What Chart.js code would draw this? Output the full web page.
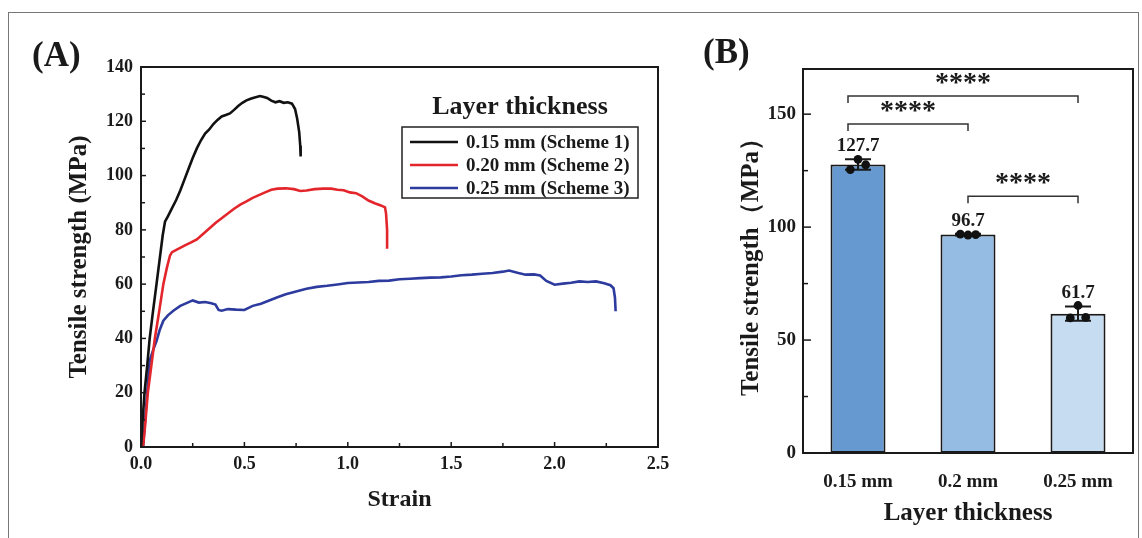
<!DOCTYPE html>
<html>
<head>
<meta charset="utf-8">
<script src="https://cdn.jsdelivr.net/npm/chart.js@4.4.0/dist/chart.umd.min.js"></script>
<style>
  body { margin: 0; background: #fff; width: 1142px; height: 538px; overflow: hidden; position: relative; }
  #frame { position: absolute; left: 8px; top: 12px; width: 1131px; height: 560px; border: 1px solid #777; box-sizing: border-box; }
  .panel { position: absolute; font-family: 'Liberation Serif', serif; font-weight: bold; font-size: 35px; color: #1a1a1a; line-height: 1; }
  .wrap { position: absolute; top: 0; }
</style>
</head>
<body>
<div id="frame"></div>
<div class="wrap" style="left:0;width:700px;height:538px"><canvas id="chartA" width="700" height="538"></canvas></div>
<div class="wrap" style="left:690px;width:452px;height:538px"><canvas id="chartB" width="452" height="538"></canvas></div>
<div class="panel" style="left:32px;top:37px">(A)</div>
<div class="panel" style="left:703px;top:34px">(B)</div>
<script>
// ---- panel A: stress-strain curves ----
const strain015 = [0, 0.008, 0.017, 0.03, 0.042, 0.058, 0.075, 0.09, 0.105, 0.116, 0.13, 0.15, 0.17, 0.19, 0.21, 0.23, 0.25, 0.27, 0.29, 0.31, 0.33, 0.35, 0.37, 0.39, 0.41, 0.43, 0.45, 0.47, 0.49, 0.51, 0.53, 0.55, 0.575, 0.59, 0.61, 0.63, 0.65, 0.67, 0.69, 0.71, 0.73, 0.745, 0.755, 0.765, 0.77, 0.772];
const stress015 = [0, 10, 20, 30, 40, 50, 60, 69, 78, 83, 85, 88, 91, 94.5, 98.5, 102.5, 106.5, 110, 113, 115.5, 117, 119, 120.5, 121.8, 122.3, 122.9, 124.2, 125.6, 126.8, 127.7, 128.3, 128.8, 129.3, 129, 128.6, 127.6, 127, 127.4, 126.8, 127, 126.5, 124.5, 121, 116, 111, 107];

const strain020 = [0.01, 0.02, 0.033, 0.05, 0.067, 0.088, 0.108, 0.125, 0.14, 0.15, 0.18, 0.21, 0.24, 0.27, 0.3, 0.33, 0.36, 0.39, 0.42, 0.45, 0.48, 0.51, 0.54, 0.57, 0.6, 0.63, 0.66, 0.7, 0.74, 0.77, 0.8, 0.84, 0.88, 0.92, 0.95, 0.98, 1.01, 1.04, 1.07, 1.1, 1.13, 1.16, 1.18, 1.185, 1.19, 1.19];
const stress020 = [0, 8, 20, 30, 40, 50, 60, 66, 70.5, 71.8, 73, 74.2, 75.3, 76.5, 78.5, 80.5, 82.5, 84.3, 86, 87.8, 89.3, 90.5, 91.8, 92.8, 93.8, 94.8, 95.2, 95.3, 95, 94.3, 94.5, 95, 95.2, 95.2, 94.8, 94.6, 93.8, 93.5, 92.3, 90.8, 89.8, 89, 88.3, 86, 80, 73];

const strain025 = [0.01, 0.02, 0.03, 0.042, 0.06, 0.075, 0.09, 0.108, 0.13, 0.158, 0.19, 0.22, 0.25, 0.28, 0.31, 0.34, 0.36, 0.375, 0.39, 0.42, 0.46, 0.5, 0.54, 0.58, 0.62, 0.66, 0.7, 0.75, 0.8, 0.85, 0.9, 0.95, 1.0, 1.05, 1.1, 1.15, 1.2, 1.25, 1.3, 1.35, 1.4, 1.45, 1.5, 1.55, 1.6, 1.65, 1.7, 1.75, 1.78, 1.82, 1.86, 1.9, 1.93, 1.96, 2.0, 2.04, 2.08, 2.12, 2.16, 2.2, 2.24, 2.27, 2.285, 2.292, 2.295];
const stress025 = [0, 10, 20, 31.8, 36, 39, 43, 46.5, 48.5, 50.3, 52, 53, 54, 53.2, 53.4, 53, 52.5, 50.5, 50.2, 50.8, 50.6, 50.5, 52, 52.8, 54, 55.2, 56.3, 57.3, 58.3, 59, 59.4, 59.9, 60.4, 60.6, 60.8, 61.2, 61.3, 61.8, 62, 62.2, 62.4, 62.5, 62.8, 63.3, 63.5, 63.8, 64.1, 64.6, 65, 64.2, 63.5, 63.6, 63.2, 61.2, 59.8, 60.2, 60.5, 61, 60.8, 61, 60.3, 59.6, 58.5, 55, 50];

const seriesLabels = ['0.15 mm (Scheme 1)', '0.20 mm (Scheme 2)', '0.25 mm (Scheme 3)'];
const seriesColors = ['#111111', '#e3262b', '#2d3b9e'];

// ---- panel B: mean tensile strength ----
const categoriesB = ['0.15 mm', '0.2 mm', '0.25 mm'];
const meansB = [127.7, 96.7, 61.7];
const errorsB = [2.3, 0.4, 3.2];
const replicatesB = [[130, 125.5, 127.6], [96.5, 96.9, 96.7], [65.3, 59.8, 60]];
const barColors = ['#6699d0', '#95bce3', '#c6dcf1'];
const comparisons = [
  { from: 0, to: 1, level: 145.6, text: '****' },
  { from: 0, to: 2, level: 158, text: '****' },
  { from: 1, to: 2, level: 113.7, text: '****' }
];

const SERIF = "'Liberation Serif', 'Times New Roman', serif";
const INK = '#1a1a1a';

function font(size) { return { family: SERIF, size: size, weight: 'bold' }; }

// box around the plot area plus inward tick marks
function framePlugin(scaleDefs) {
  return {
    id: 'frameTicks',
    afterDraw(chart) {
      const { ctx, chartArea: a } = chart;
      ctx.save();
      ctx.strokeStyle = INK;
      ctx.lineWidth = 2;
      ctx.strokeRect(a.left, a.top, a.right - a.left, a.bottom - a.top);
      ctx.lineWidth = 1.5;
      scaleDefs.forEach(d => {
        const s = chart.scales[d.id];
        const vals = s.ticks.map(t => t.value);
        const draw = (v, len) => {
          const p = s.getPixelForValue(v);
          ctx.beginPath();
          if (s.isHorizontal()) { ctx.moveTo(p, a.bottom); ctx.lineTo(p, a.bottom - len); }
          else { ctx.moveTo(a.left, p); ctx.lineTo(a.left + len, p); }
          ctx.stroke();
        };
        vals.forEach(v => draw(v, d.major));
        for (let i = 0; i < vals.length - 1; i++) draw((vals[i] + vals[i + 1]) / 2, d.minor);
      });
      ctx.restore();
    }
  };
}

const legendA = {
  id: 'legendA',
  afterDraw(chart) {
    const ctx = chart.ctx;
    ctx.save();
    ctx.fillStyle = INK;
    ctx.font = 'bold 26px ' + SERIF;
    ctx.textAlign = 'center';
    ctx.textBaseline = 'middle';
    ctx.fillText('Layer thickness', 520, 107);
    ctx.strokeStyle = '#222';
    ctx.lineWidth = 1.5;
    ctx.strokeRect(402, 127, 236, 71);
    ctx.font = 'bold 19px ' + SERIF;
    ctx.textAlign = 'left';
    chart.data.datasets.forEach((ds, i) => {
      const y = 142 + i * 23;
      ctx.strokeStyle = ds.borderColor;
      ctx.lineWidth = 2.6;
      ctx.beginPath(); ctx.moveTo(410, y); ctx.lineTo(458, y); ctx.stroke();
      ctx.fillText(ds.label, 466, y + 1);
    });
    ctx.restore();
  }
};

const pairs = (xs, ys) => xs.map((x, i) => ({ x: x, y: ys[i] }));

new Chart(document.getElementById('chartA'), {
  type: 'scatter',
  data: {
    datasets: [
      { label: seriesLabels[0], data: pairs(strain015, stress015), borderColor: seriesColors[0] },
      { label: seriesLabels[1], data: pairs(strain020, stress020), borderColor: seriesColors[1] },
      { label: seriesLabels[2], data: pairs(strain025, stress025), borderColor: seriesColors[2] }
    ]
  },
  options: {
    responsive: false,
    animation: false,
    showLine: true,
    layout: { padding: { top: 67, right: 42, left: 0, bottom: 0 } },
    elements: { point: { radius: 0 }, line: { borderWidth: 2.6, tension: 0 } },
    plugins: { legend: { display: false }, tooltip: { enabled: false } },
    scales: {
      x: {
        type: 'linear', min: 0, max: 2.5,
        grid: { display: false, drawTicks: false }, border: { display: false },
        ticks: { stepSize: 0.5, padding: 7, color: INK, font: font(18), callback: v => v.toFixed(1) },
        title: { display: true, text: 'Strain', color: INK, font: font(24), padding: { top: 0, bottom: 24 } },
        afterFit: s => { s.height = 91; }
      },
      y: {
        min: 0, max: 140,
        grid: { display: false, drawTicks: false }, border: { display: false },
        ticks: { stepSize: 20, padding: 8, color: INK, font: font(18) },
        title: { display: true, text: 'Tensile strength (MPa)', color: INK, font: font(25), padding: { top: 65, bottom: 0 } },
        afterFit: s => { s.width = 141; }
      }
    }
  },
  plugins: [framePlugin([{ id: 'x', major: 5, minor: 4 }, { id: 'y', major: 5, minor: 4 }]), legendA]
});

// error bars right after the bars, before the dots
const errorBarsB = {
  id: 'errorBarsB',
  afterDatasetDraw(chart, args) {
    if (args.index !== 0) return;
    const { ctx } = chart;
    const x = chart.scales.x, y = chart.scales.y;
    ctx.save();
    ctx.strokeStyle = INK;
    ctx.lineWidth = 2;
    meansB.forEach((m, i) => {
      const px = x.getPixelForValue(i);
      const top = y.getPixelForValue(m + errorsB[i]);
      const bot = y.getPixelForValue(m - errorsB[i]);
      ctx.beginPath();
      ctx.moveTo(px, top); ctx.lineTo(px, bot);
      ctx.moveTo(px - 13, top); ctx.lineTo(px + 13, top);
      ctx.moveTo(px - 13, bot); ctx.lineTo(px + 13, bot);
      ctx.stroke();
    });
    ctx.restore();
  }
};

const annotateB = {
  id: 'annotateB',
  afterDraw(chart) {
    const { ctx } = chart;
    const x = chart.scales.x, y = chart.scales.y;
    ctx.save();
    ctx.fillStyle = INK;
    ctx.textAlign = 'center';
    ctx.textBaseline = 'alphabetic';
    ctx.font = 'bold 19px ' + SERIF;
    meansB.forEach((m, i) => {
      ctx.fillText(m.toFixed(1), x.getPixelForValue(i), y.getPixelForValue(m + errorsB[i]) - 8);
    });
    ctx.strokeStyle = '#333';
    ctx.lineWidth = 1.5;
    ctx.font = 'bold 28px ' + SERIF;
    comparisons.forEach(c => {
      const x1 = x.getPixelForValue(c.from) - (c.from === 0 ? 10 : 0);
      const x2 = x.getPixelForValue(c.to);
      const py = y.getPixelForValue(c.level);
      ctx.beginPath();
      ctx.moveTo(x1, py + 7); ctx.lineTo(x1, py); ctx.lineTo(x2, py); ctx.lineTo(x2, py + 7);
      ctx.stroke();
      ctx.fillText(c.text, (x1 + x2) / 2, py - 5);
    });
    ctx.restore();
  }
};

const dotOffsets = [0, -0.07, 0.07];
const dotsB = [];
replicatesB.forEach((reps, i) => reps.forEach((v, k) => dotsB.push({ x: i + dotOffsets[k], y: v })));

new Chart(document.getElementById('chartB'), {
  data: {
    labels: categoriesB,
    datasets: [
      {
        type: 'bar', data: meansB, backgroundColor: barColors, borderColor: INK, grouped: false,
        borderWidth: 2, borderSkipped: false, barPercentage: 1, categoryPercentage: 0.5, order: 2
      },
      {
        type: 'scatter', data: dotsB, xAxisID: 'xj', pointRadius: 4.4,
        pointBackgroundColor: '#111', pointBorderWidth: 0, order: 1
      }
    ]
  },
  options: {
    responsive: false,
    animation: false,
    layout: { padding: { top: 69, right: 9, left: 0, bottom: 0 } },
    plugins: { legend: { display: false }, tooltip: { enabled: false } },
    scales: {
      x: {
        grid: { display: false, drawTicks: false }, border: { display: false },
        ticks: { padding: 18, color: INK, font: font(19) },
        title: { display: true, text: 'Layer thickness', color: INK, font: font(25), padding: { top: 0, bottom: 9 } },
        afterFit: s => { s.height = 85; }
      },
      xj: { type: 'linear', display: false, min: -0.5, max: 2.5 },
      y: {
        min: 0, max: 170,
        grid: { display: false, drawTicks: false }, border: { display: false },
        ticks: { stepSize: 50, padding: 7, color: INK, font: font(19) },
        afterBuildTicks: s => { s.ticks = s.ticks.filter(t => t.value % 50 === 0); },
        title: { display: true, text: 'Tensile strength（MPa）', color: INK, font: font(25), padding: { top: 47, bottom: 0 } },
        afterFit: s => { s.width = 113; }
      }
    }
  },
  plugins: [errorBarsB, framePlugin([{ id: 'y', major: 8, minor: 5 }]), annotateB]
});
</script>
</body>
</html>
